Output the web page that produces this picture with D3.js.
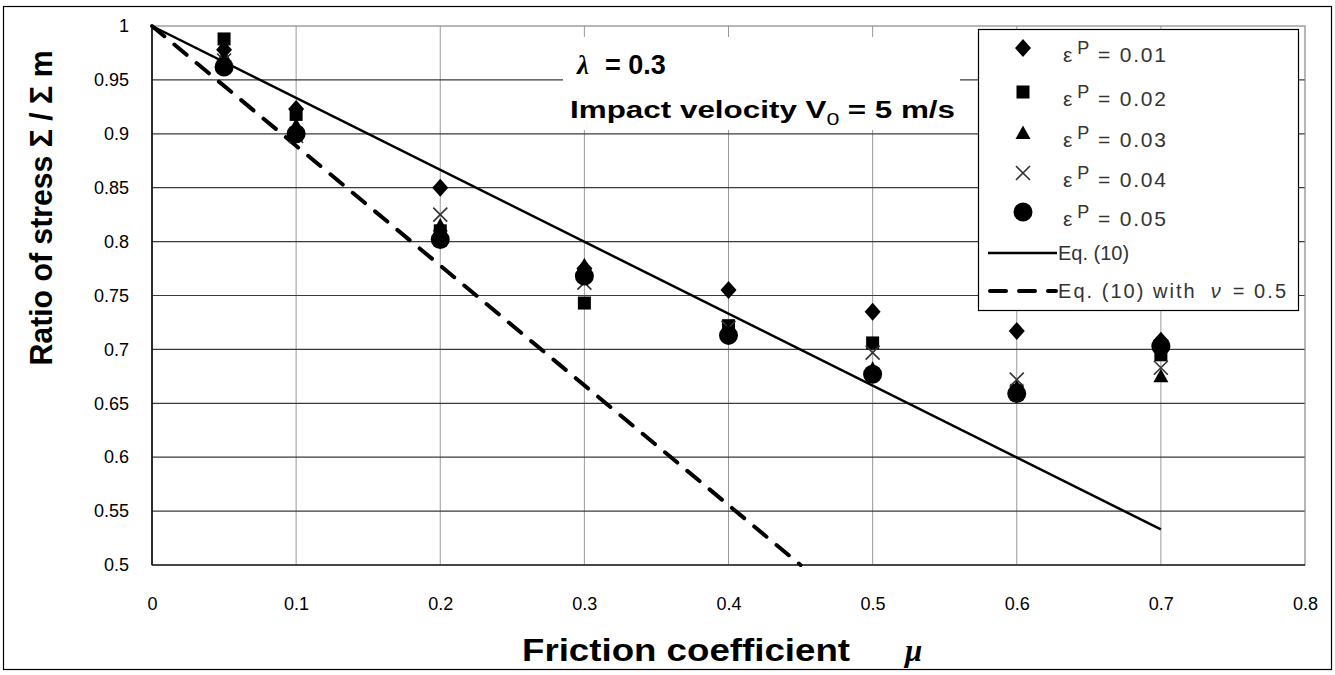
<!DOCTYPE html>
<html><head><meta charset="utf-8">
<script src="https://cdn.jsdelivr.net/npm/d3@7"></script>
<style>body{margin:0;background:#fff}svg{display:block}</style>
</head><body>
<svg id="c" width="1335" height="675"></svg>
<script>
const mu = [0.05, 0.1, 0.2, 0.3, 0.4, 0.5, 0.6, 0.7];
const ep01 = [0.978, 0.923, 0.850, 0.775, 0.755, 0.735, 0.717, 0.708];
const ep02 = [0.988, 0.918, 0.810, 0.743, 0.722, 0.706, 0.662, 0.695];
const ep03 = [0.972, 0.908, 0.815, 0.778, 0.717, 0.682, 0.665, 0.675];
const ep04 = [0.968, 0.898, 0.825, 0.762, 0.720, 0.697, 0.672, 0.683];
const ep05 = [0.962, 0.900, 0.802, 0.768, 0.713, 0.677, 0.659, 0.703];
const seriesLabels = ["0.01", "0.02", "0.03", "0.04", "0.05"];
const eq10 = [[0, 1], [0.7, 0.533]];
const eq10nu = [[0, 1], [0.45, 0.5]];
const xTicks = [0, 0.1, 0.2, 0.3, 0.4, 0.5, 0.6, 0.7, 0.8];
const yTicks = [0.5, 0.55, 0.6, 0.65, 0.7, 0.75, 0.8, 0.85, 0.9, 0.95, 1];

const svg = d3.select("#c");
const L = 152, R = 1305, T = 26, B = 565;
const x = d3.scaleLinear().domain([0, 0.8]).range([L, R]);
const y = d3.scaleLinear().domain([0.5, 1]).range([B, T]);

// outer border
svg.append("rect").attr("x", 3.5).attr("y", 6.5).attr("width", 1328).attr("height", 663)
  .attr("fill", "#fff").attr("stroke", "#000").attr("stroke-width", 1.2);

// gridlines
svg.append("g").selectAll("line").data(xTicks.slice(1, -1)).join("line")
  .attr("x1", d => x(d)).attr("x2", d => x(d)).attr("y1", T).attr("y2", B)
  .attr("stroke", "#9a9a9a").attr("stroke-width", 1);
svg.append("g").selectAll("line").data(yTicks.slice(1, -1)).join("line")
  .attr("x1", L).attr("x2", R).attr("y1", d => y(d)).attr("y2", d => y(d))
  .attr("stroke", "#3a3a3a").attr("stroke-width", 1.2);
// plot border
svg.append("rect").attr("x", L).attr("y", T).attr("width", R - L).attr("height", B - T)
  .attr("fill", "none").attr("stroke", "#888").attr("stroke-width", 1.2);
svg.append("line").attr("x1", L).attr("x2", L).attr("y1", T).attr("y2", B).attr("stroke", "#000").attr("stroke-width", 1.5);
svg.append("line").attr("x1", L).attr("x2", R).attr("y1", B).attr("y2", B).attr("stroke", "#222").attr("stroke-width", 1.5);

// axes
const xAxis = d3.axisBottom(x).tickValues(xTicks).tickSize(0).tickPadding(0).tickFormat(d => String(+d.toFixed(1)));
const gx = svg.append("g").attr("transform", `translate(0,${B + 39})`).call(xAxis);
gx.select(".domain").remove();
gx.selectAll("text").attr("font-family", "Liberation Sans, Arial, sans-serif").attr("font-size", 18).attr("fill", "#000").attr("dy", "0.35em").attr("y", 0);
const yAxis = d3.axisLeft(y).tickValues(yTicks).tickSize(0).tickPadding(0).tickFormat(d => String(+d.toFixed(2)));
const gy = svg.append("g").attr("transform", `translate(${L - 23},0)`).call(yAxis);
gy.select(".domain").remove();
gy.selectAll("text").attr("font-family", "Liberation Sans, Arial, sans-serif").attr("font-size", 18).attr("fill", "#000");

// annotation box
svg.append("rect").attr("x", 563).attr("y", 37).attr("width", 397).attr("height", 93).attr("fill", "#fff");
const lam = svg.append("text").attr("x", 577).attr("y", 74).attr("font-family", "Liberation Sans, Arial, sans-serif")
  .attr("font-size", 27).attr("font-weight", "bold").attr("fill", "#000");
lam.append("tspan").attr("font-family", "Liberation Serif, serif").attr("font-style", "italic").text("λ");
lam.append("tspan").attr("dx", 16).text("= 0.3");
const imp = svg.append("text").attr("x", 570).attr("y", 118).attr("font-family", "Liberation Sans, Arial, sans-serif")
  .attr("font-size", 23).attr("font-weight", "bold").attr("fill", "#000")
  .attr("textLength", 385).attr("lengthAdjust", "spacingAndGlyphs");
imp.append("tspan").text("Impact velocity V");
imp.append("tspan").attr("font-size", 17).attr("dy", 7).attr("font-weight", "normal").text("0");
imp.append("tspan").attr("dy", -7).attr("dx", 6).text("= 5 m/s");

// lines
const line = d3.line().x(d => x(d[0])).y(d => y(d[1]));
svg.append("path").attr("d", line(eq10)).attr("fill", "none").attr("stroke", "#000").attr("stroke-width", 2.5);
svg.append("path").attr("d", line(eq10nu)).attr("fill", "none").attr("stroke", "#000").attr("stroke-width", 4)
  .attr("stroke-dasharray", "16,13").attr("stroke-linecap", "round");

// markers
const shapes = [
  (g) => g.append("path").attr("d", "M0,-9L8,0L0,9L-8,0Z").attr("fill", "#000"),
  (g) => g.append("rect").attr("x", -6.5).attr("y", -6.5).attr("width", 13).attr("height", 13).attr("fill", "#000"),
  (g) => g.append("path").attr("d", "M0,-7.5L7.5,6L-7.5,6Z").attr("fill", "#000"),
  (g) => g.append("path").attr("d", "M-7,-7L7,7M-7,7L7,-7").attr("stroke", "#333").attr("stroke-width", 1.6).attr("fill", "none"),
  (g) => g.append("circle").attr("r", 9.5).attr("fill", "#000")
];
const series = [ep01, ep02, ep03, ep04, ep05];
series.forEach((vals, si) => {
  const g = svg.append("g");
  vals.forEach((v, i) => {
    const m = g.append("g").attr("transform", `translate(${x(mu[i])},${y(v)})`);
    shapes[si](m);
  });
});

// legend
const lg = svg.append("g");
lg.append("rect").attr("x", 978.5).attr("y", 29.5).attr("width", 320).attr("height", 281)
  .attr("fill", "#fff").attr("stroke", "#000").attr("stroke-width", 1.2);
const rowsY = [48, 92, 133, 173, 212];
seriesLabels.forEach((lab, i) => {
  const m = lg.append("g").attr("transform", `translate(1023,${rowsY[i]})`);
  shapes[i](m);
  const t = lg.append("text").attr("x", 1063).attr("y", rowsY[i] + 14).attr("font-family", "Liberation Sans, Arial, sans-serif")
    .attr("font-size", 21).attr("fill", "#333").attr("textLength", 103).attr("lengthAdjust", "spacing");
  t.append("tspan").text("ε");
  t.append("tspan").attr("dy", -8).attr("dx", 3).attr("font-size", 18).text("P");
  t.append("tspan").attr("dy", 8).attr("dx", 7).text("= " + lab);
});
lg.append("line").attr("x1", 988).attr("x2", 1057).attr("y1", 253).attr("y2", 253).attr("stroke", "#000").attr("stroke-width", 2.5);
lg.append("text").attr("x", 1058).attr("y", 260).attr("font-family", "Liberation Sans, Arial, sans-serif").attr("font-size", 20).attr("fill", "#333").text("Eq. (10)");
lg.append("line").attr("x1", 990).attr("x2", 1056).attr("y1", 291).attr("y2", 291).attr("stroke", "#000").attr("stroke-width", 4)
  .attr("stroke-dasharray", "16,13").attr("stroke-linecap", "round");
const lt = lg.append("text").attr("x", 1058).attr("y", 298).attr("font-family", "Liberation Sans, Arial, sans-serif").attr("font-size", 20).attr("fill", "#333")
  .attr("textLength", 228).attr("lengthAdjust", "spacing");
lt.append("tspan").text("Eq. (10) with");
lt.append("tspan").attr("dx", 14).attr("font-style", "italic").text("ν");
lt.append("tspan").attr("dx", 10).text("= 0.5");

// axis titles
const xt = svg.append("text").attr("x", 522).attr("y", 661).attr("font-family", "Liberation Sans, Arial, sans-serif")
  .attr("font-size", 31).attr("font-weight", "bold").attr("fill", "#000");
xt.append("tspan").attr("textLength", 328).attr("lengthAdjust", "spacingAndGlyphs").text("Friction coefficient");
xt.append("tspan").attr("x", 905).attr("font-family", "Liberation Serif, serif").attr("font-style", "italic").text("μ");

svg.append("text").attr("transform", "translate(52,208) rotate(-90)").attr("text-anchor", "middle")
  .attr("font-family", "Liberation Sans, Arial, sans-serif").attr("font-size", 31).attr("font-weight", "bold").attr("fill", "#000")
  .attr("textLength", 315).attr("lengthAdjust", "spacingAndGlyphs")
  .text("Ratio of  stress Σ / Σ m");
</script>
</body></html>
